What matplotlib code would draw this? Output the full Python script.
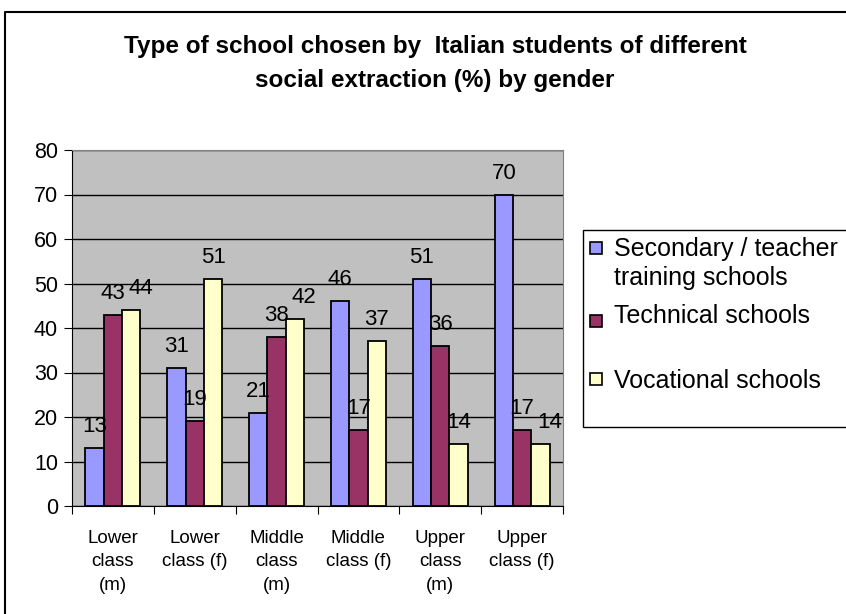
import matplotlib.pyplot as plt
import numpy as np
from matplotlib.patches import Rectangle
from matplotlib.lines import Line2D

plt.rcParams['font.family'] = ['Liberation Sans', 'DejaVu Sans']

categories = ["Lower\nclass\n(m)", "Lower\nclass (f)", "Middle\nclass\n(m)",
              "Middle\nclass (f)", "Upper\nclass\n(m)", "Upper\nclass (f)"]
series_names = ["Secondary / teacher\ntraining schools", "Technical schools",
                "Vocational schools"]
secondary = [13, 31, 21, 46, 51, 70]
technical = [43, 19, 38, 17, 36, 17]
vocational = [44, 51, 42, 37, 14, 14]
colors = ["#9999FF", "#993366", "#FFFFCC"]

fig = plt.figure(figsize=(8.46, 6.14), dpi=100)
ax = fig.add_axes([72/846, 1-506/614, 491/846, 356/614])
ax.set_facecolor("#C0C0C0")

x = np.arange(len(categories))
w = 0.224
labels = [[None] * 3 for _ in categories]
for i, vals in enumerate([secondary, technical, vocational]):
    pos = x + (i - 1) * w
    ax.bar(pos, vals, w, color=colors[i], edgecolor="black", linewidth=1.3, zorder=3)
    for j, (p, v) in enumerate(zip(pos, vals)):
        labels[j][i] = ax.annotate(str(v), (p, v), xytext=(0, 11.5), textcoords="offset points",
                                   ha="center", va="baseline", fontsize=16, zorder=4)

ax.set_xlim(-0.5, len(categories) - 0.5)
ax.set_ylim(0, 80)
ax.set_yticks(range(0, 81, 10))
ax.yaxis.grid(True, color="black", linewidth=1)
ax.set_axisbelow(True)
ax.tick_params(axis="y", labelsize=15.5, length=6, direction="out", pad=4)
ax.set_xticks(np.arange(-0.5, len(categories), 1))
ax.set_xticklabels([])
ax.set_xticks(x, minor=True)
ax.set_xticklabels(categories, minor=True, fontsize=13.5, linespacing=1.5)
ax.tick_params(axis="x", which="major", length=6, direction="out")
ax.tick_params(axis="x", which="minor", length=0, pad=17)
for s in ["top", "right"]:
    ax.spines[s].set_color("#808080")
for s in ["left", "bottom"]:
    ax.spines[s].set_color("black")

# nudge data labels right when they collide with the one to their left (like Excel)
fig.canvas.draw()
r = fig.canvas.get_renderer()
for grp in labels:
    for k in range(1, 3):
        a = grp[k - 1].get_window_extent(r)
        b = grp[k].get_window_extent(r)
        if a.overlaps(b):
            shift = a.x1 - b.x0 + 3
            ox, oy = grp[k].xyann
            grp[k].xyann = (ox + shift * 72 / fig.dpi, oy)

fig.text(435/846, 1-47/614, "Type of school chosen by  Italian students of different",
         ha="center", va="center", fontsize=17.5, fontweight="bold")
fig.text(435/846, 1-80/614, "social extraction (%) by gender",
         ha="center", va="center", fontsize=17.5, fontweight="bold")

# outer chart frame (right/bottom edges are cut off)
fig.add_artist(Line2D([5/846, 5/846, 1.0], [0.0, 1-12/614, 1-12/614],
                      transform=fig.transFigure, color="black", linewidth=1.5))

# legend
fig.add_artist(Rectangle((583/846, 1-427/614), 300/846, 197/614, transform=fig.transFigure,
                         facecolor="white", edgecolor="black", linewidth=1))
legend_base = [285, 323, 388]
legend_sq = [242, 315, 373]
for name, c, yb, ys in zip(series_names, colors, legend_base, legend_sq):
    fig.add_artist(Rectangle((590/846, 1-(ys+12)/614), 12/846, 12/614, transform=fig.transFigure,
                             facecolor=c, edgecolor="black", linewidth=1.2))
    fig.text(614/846, 1-yb/614, name, ha="left", va="baseline", fontsize=18,
             linespacing=1.24)

fig.savefig("out.png", dpi=100)
